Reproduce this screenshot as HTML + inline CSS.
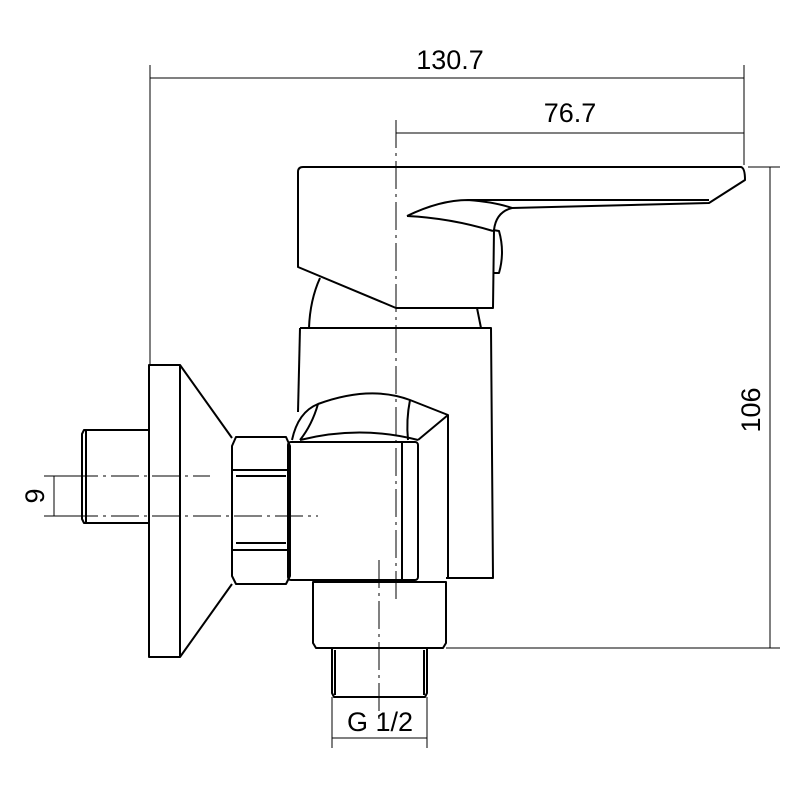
<!DOCTYPE html>
<html><head><style>body{margin:0;background:#fff}svg{display:block}</style></head><body>
<svg width="800" height="800" viewBox="0 0 800 800" xmlns="http://www.w3.org/2000/svg">
<g fill="none" stroke="#000" stroke-width="2" stroke-linejoin="round">
<path d="M298,172 Q298,167 303,167 L741,167 Q745,168 745,180 L709,203 L512,208 Q496,212 494,230 L493,308 L396,308 L298,267 Z"/>
<path d="M468,200 L709,200"/>
<path d="M407,216 Q440,200 468,200 Q495,202 512,208"/>
<path d="M407,216 Q450,218 493,231"/>
<path d="M493,230 L499,231 Q505,252 499,273 L493,273"/>
<path d="M320,278 Q310,300 309,328"/>
<path d="M477,308 L481,328"/>
<path d="M300,328 L491,328 L493,578 L446,578"/>
<path d="M300,328 L298,412"/>
<path d="M292,440 Q298,412 318,404 Q370,385 410,400 L448,415 L448,578"/>
<path d="M448,415 L418,440"/>
<path d="M300,440 Q360,425 418,440"/>
<path d="M318,404 Q312,425 300,440"/>
<path d="M410,400 Q406,420 408,440"/>
<rect x="288" y="442" width="130" height="138" rx="3"/>
<path d="M402,442 L402,580"/>
<path d="M236,437 L286,437 L290,446 L290,576 L286,584 L236,584 L232,576 L232,446 Z"/>
<path d="M232,470 L290,470 M236,476 L286,476 M236,543 L286,543 M232,550 L290,550"/>
<rect x="149" y="365" width="31" height="292"/>
<path d="M180,365 L232,438 M180,657 L232,584"/>
<path d="M149,430 L84,430 L82,434 L82,519 L84,523 L149,523"/>
<path d="M86,431 L86,522"/>
<path d="M313,582 L446,582 L446,643 L443,648 L316,648 L313,643 Z"/>
<path d="M332,648 L332,693 L334,697 L425,697 L427,693 L427,648"/>
<path d="M335,650 L335,695 M424,650 L424,695"/>
</g>
<g fill="none" stroke="#000" stroke-width="1">
<path d="M150,65 L150,365 M744,65 L744,165 M150,78 L744,78 M396,133 L744,133"/>
<path d="M748,167 L780,167 M446,648 L780,648 M770,167 L770,648"/>
<path d="M44,476 L70,476 M44,516 L70,516 M54,476 L54,516"/>
<path d="M70,476 L210,476 M70,516 L318,516" stroke-dasharray="28,5,3,5"/>
<path d="M332,697 L332,748 M427,697 L427,748 M332,738 L427,738"/>
<path d="M396,120 L396,600 M379,560 L379,720" stroke-dasharray="28,5,3,5"/>
</g>
<g font-family="Liberation Sans, sans-serif" font-size="27" fill="#000">
<text x="450" y="69" text-anchor="middle">130.7</text>
<text x="570" y="122" text-anchor="middle">76.7</text>
<text x="380" y="731" text-anchor="middle">G 1/2</text>
<text transform="translate(760,410) rotate(-90)" text-anchor="middle">106</text>
<text transform="translate(44,496) rotate(-90)" text-anchor="middle">9</text>
</g>
</svg>
</body></html>
